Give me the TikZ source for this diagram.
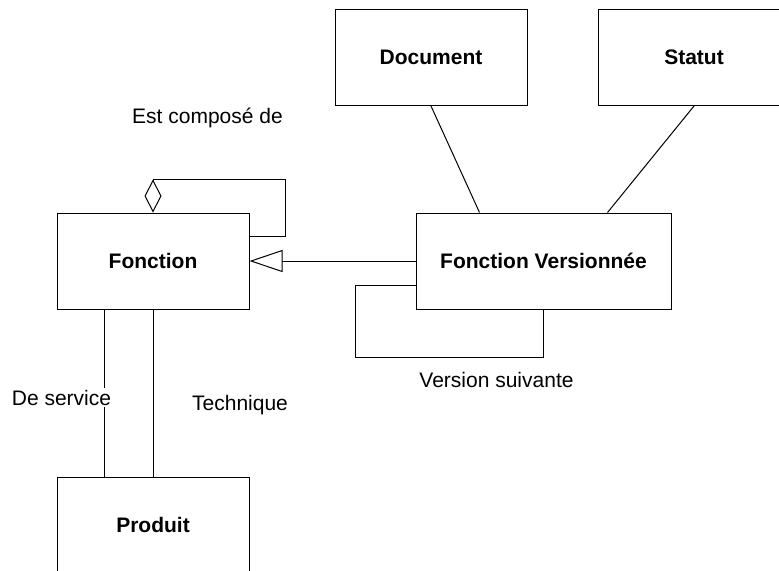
\documentclass[tikz,border=0pt]{standalone}
\usepackage{fontspec}
\setmainfont{Liberation Sans}
\usepackage{tikz}
\usetikzlibrary{arrows.meta,positioning,calc}

\begin{document}
\begin{tikzpicture}[x=0.5pt,y=-0.5pt,line width=0.5pt,
  font=\fontsize{10.5}{12.6}\selectfont,
  cls/.style={draw, fill=white, font=\fontsize{10.5}{12.6}\selectfont\bfseries,
    minimum width=96pt, minimum height=48pt, inner sep=0pt},
  lbl/.style={anchor=base, inner sep=1pt}]
\clip (0,0) rectangle (779,570);
\node[cls] (fonc) at (153,261) {Fonction};
\node[cls] (prod) at (153,525) {Produit};
\node[cls] (doc) at (431,57.5) {Document};
\node[cls] (stat) at (694,57.5) {Statut};
\node[cls, minimum width=127.5pt] (fv) at (543.5,261) {Fonction Versionnée};
% associations
\draw (doc.south) -- ($(fv.north west)!0.25!(fv.north east)$);
\draw (stat.south) -- ($(fv.north west)!0.75!(fv.north east)$);
\draw ($(fonc.south west)!0.25!(fonc.south east)$) -- ($(prod.north west)!0.25!(prod.north east)$);
\draw (fonc.south) -- (prod.north);
% heritage
\draw[-{Triangle[open,length=16.5pt,width=11pt,fill=white]}] (fv.west) -- (fonc.east);
% composition
\draw[-{Diamond[open,length=16.5pt,width=8.5pt,fill=white]}]
  ($(fonc.north east)+(0,24)$) -- ++(36,0) |- ($(fonc.north)+(0,-33)$) -- (fonc.north);
% version suivante
\draw ($(fv.west)+(0,24)$) -- ++(-60,0) -- ++(0,72) -| (fv.south);
% labels
\node[lbl] (compo) at (207.5,123) {Est composé de};
\node[lbl, fill=white] (serv) at (61.5,405) {De service};
\node[lbl] (tech) at (240,410) {Technique};
\node[lbl] (vers) at (496.5,387) {Version suivante};
\end{tikzpicture}
\end{document}
